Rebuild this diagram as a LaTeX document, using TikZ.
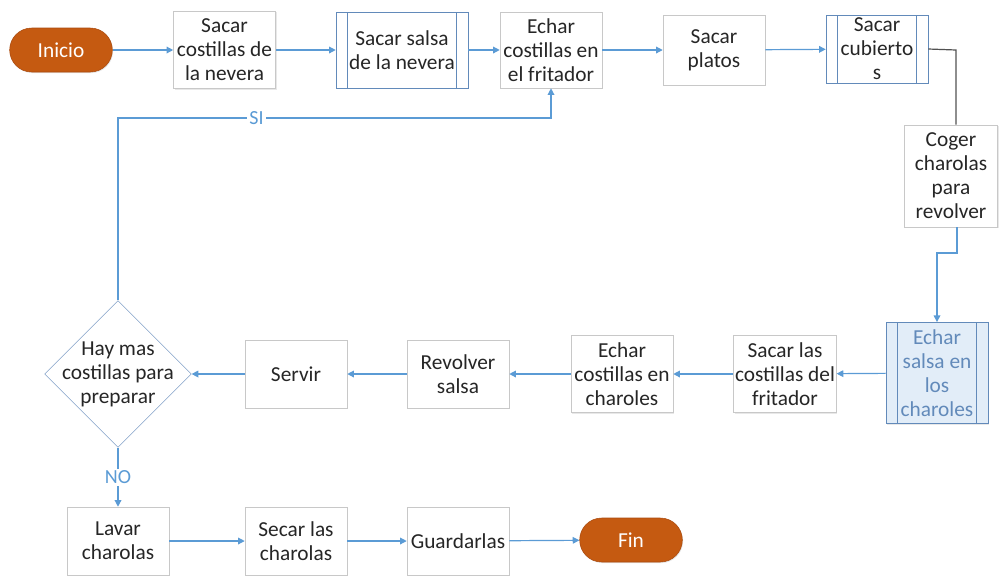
\documentclass[tikz,border=0pt]{standalone}
\usepackage{fontspec}
\setmainfont{Carlito}
\usepackage{tikz}
\usetikzlibrary{arrows.meta,calc,positioning,shapes.geometric,shadows}
\definecolor{flowblue}{RGB}{91,155,213}
\definecolor{edgeblue}{RGB}{98,138,186}
\definecolor{boxgray}{RGB}{200,200,200}
\definecolor{termorange}{RGB}{197,90,17}
\definecolor{termedge}{RGB}{170,75,15}
\definecolor{inkgray}{RGB}{38,38,38}
\definecolor{paleblue}{RGB}{226,237,248}

\begin{document}
\begin{tikzpicture}[x=0.75pt,y=-0.75pt,>={Triangle[width=5pt,length=5pt]},
    txt/.style={font=\fontsize{16}{18}\selectfont,text=inkgray,align=center},
    proc/.style={txt,rectangle,draw=boxgray,fill=white,inner sep=1pt,
        minimum width=76.5pt,minimum height=58pt,
        drop shadow={shadow xshift=0.8pt,shadow yshift=-0.8pt,opacity=0.18}},
    predef/.style={proc,draw=edgeblue,
        path picture={
          \draw[edgeblue] ([xshift=8.5pt]path picture bounding box.north west) -- ([xshift=8.5pt]path picture bounding box.south west);
          \draw[edgeblue] ([xshift=-8.5pt]path picture bounding box.north east) -- ([xshift=-8.5pt]path picture bounding box.south east);}},
    term/.style={txt,text=white,rectangle,rounded corners=16.5pt,draw=termedge,fill=termorange,
        minimum width=77pt,minimum height=33pt,
        drop shadow={shadow xshift=0.6pt,shadow yshift=-0.8pt,opacity=0.2}},
    decide/.style={diamond,draw=edgeblue!80,fill=white,inner sep=0pt,minimum width=110pt,minimum height=110pt},
    flow/.style={->,flowblue,line width=0.9pt},
    tag/.style={font=\fontsize{15}{16}\selectfont,text=flowblue,fill=white,inner sep=1.5pt}]
    \useasboundingbox (0,0) rectangle (999,576);
    % fila de arriba
    \node[term] (ini) at (61,50) {Inicio};
    \node[proc] (b1) at (224.5,50) {Sacar\\costillas de\\la nevera};
    \node[predef,minimum width=99pt,minimum height=57pt] (b2) at (402,50) {Sacar salsa\\de la nevera};
    \node[proc,minimum height=57pt] (b3) at (551,50) {Echar\\costillas en\\el fritador};
    \node[proc,minimum height=52.5pt] (b4) at (714,50) {Sacar\\platos};
    \node[predef,minimum height=51pt] (b5) at (877,49) {Sacar\\cubierto\\s};
    \node[proc,minimum width=70pt,minimum height=76.5pt] (b6) at (951,176) {Coger\\charolas\\para\\revolver};
    % fila del medio
    \node[predef,fill=paleblue,text=edgeblue,minimum height=76pt] (b7) at (937,373) {Echar\\salsa en\\los\\charoles};
    \node[proc] (b8) at (785,374) {Sacar las\\costillas del\\fritador};
    \node[proc] (b9) at (622,374) {Echar\\costillas en\\charoles};
    \node[proc,minimum height=51pt] (b10) at (458,374) {Revolver\\salsa};
    \node[proc,minimum height=51pt] (b11) at (296,374) {Servir};
    \node[decide,label={[txt]center:Hay mas\\costillas para\\preparar}] (dec) at (118,374) {};
    % fila de abajo
    \node[proc,minimum height=51pt] (b12) at (118,541) {Lavar\\charolas};
    \node[proc,minimum height=51pt] (b13) at (296,541) {Secar las\\charolas};
    \node[proc,minimum height=51pt] (b14) at (458,541) {Guardarlas};
    \node[term] (fin) at (631,540) {Fin};
    \coordinate (k1) at (956,50);
    \coordinate (k2) at (957,253);
    \coordinate (k3) at (118,118);
    \draw[flow] (ini) -- (b1);
    \draw[flow] (b1) -- (b2);
    \draw[flow] (b2) -- (b3);
    \draw[flow] (b3) -- (b4);
    \draw[flow] (b4) -- (b5);
    \draw[inkgray!80,line width=0.9pt] (b5.east) -- (k1) -- (k1 |- b6.north);
    \draw[flow] (k2 |- b6.south) -- (k2) -| (b7.north);
    \draw[flow] (b7) -- (b8);
    \draw[flow] (b8) -- (b9);
    \draw[flow] (b9) -- (b10);
    \draw[flow] (b10) -- (b11);
    \draw[flow] (b11) -- (dec);
    \draw[flow] (dec.north) -- (k3) -| node[tag,pos=0.16] {SI} (b3.south);
    \draw[flow] (dec.south) -- node[tag] {NO} (b12.north);
    \draw[flow] (b12) -- (b13);
    \draw[flow] (b13) -- (b14);
    \draw[flow] (b14) -- (fin);
\end{tikzpicture}
\end{document}
